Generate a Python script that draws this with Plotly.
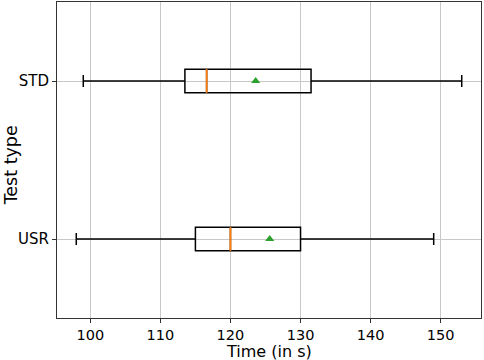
import plotly.graph_objects as go

# Data
categories = ["USR", "STD"]
positions = [1, 2]
lower_whisker = [98, 99]
q1 = [115, 113.5]
median = [120, 116.6]
q3 = [130, 131.5]
upper_whisker = [149, 153]
mean = [125.6, 123.6]
x_ticks = [100, 110, 120, 130, 140, 150]

BOX_W = 0.15
FONT = "DejaVu Sans"

fig = go.Figure()

for i, cat in enumerate(categories):
    fig.add_trace(go.Box(
        y=[positions[i]],
        q1=[q1[i]], median=[median[i]], q3=[q3[i]],
        lowerfence=[lower_whisker[i]], upperfence=[upper_whisker[i]],
        orientation="h",
        width=BOX_W,
        whiskerwidth=0.5,
        line=dict(color="black", width=1.5),
        fillcolor="rgba(255,255,255,0)",
        boxpoints=False,
        showlegend=False,
        hoverinfo="skip",
        name=cat,
    ))
    # orange median line
    fig.add_trace(go.Scatter(
        x=[median[i], median[i]],
        y=[positions[i] - BOX_W / 2, positions[i] + BOX_W / 2],
        mode="lines",
        line=dict(color="#ff7f0e", width=1.8),
        showlegend=False, hoverinfo="skip",
    ))
    # green mean triangle
    fig.add_trace(go.Scatter(
        x=[mean[i]], y=[positions[i]],
        mode="markers",
        marker=dict(symbol="triangle-up", color="#2ca02c", size=8),
        showlegend=False, hoverinfo="skip",
    ))

fig.update_layout(
    width=484, height=360,
    margin=dict(l=57, r=3, t=2, b=42, autoexpand=False),
    paper_bgcolor="white", plot_bgcolor="white",
    font=dict(family=FONT, size=15, color="black"),
    boxmode="overlay",
    annotations=[
        dict(text="Time (in s)", xref="paper", yref="paper", x=0.5, y=-0.106,
             xanchor="center", yanchor="middle", showarrow=False,
             font=dict(size=16)),
        dict(text="Test type", xref="paper", yref="paper", x=-0.1085, y=0.483,
             xanchor="center", yanchor="middle", textangle=-90, showarrow=False,
             font=dict(size=17.5)),
    ],
)
fig.update_xaxes(
    range=[95.25, 155.75],
    tickvals=x_ticks,
    ticktext=[str(t) for t in x_ticks],
    showgrid=True, gridcolor="#c8c8c8", gridwidth=1,
    zeroline=False, automargin=False,
    showline=True, mirror=True, linecolor="#333333", linewidth=1,
    ticks="outside", ticklen=4, tickcolor="#333333",
    tickfont=dict(size=14.5),
)
fig.update_yaxes(
    range=[0.5, 2.5],
    tickvals=positions,
    ticktext=categories,
    showgrid=True, gridcolor="#c8c8c8", gridwidth=1,
    zeroline=False, automargin=False,
    showline=True, mirror=True, linecolor="#333333", linewidth=1,
    ticks="outside", ticklen=4, tickcolor="#333333",
)

fig.write_html("out.html", config={"displayModeBar": False},
               post_script="document.body.style.margin='0';")
